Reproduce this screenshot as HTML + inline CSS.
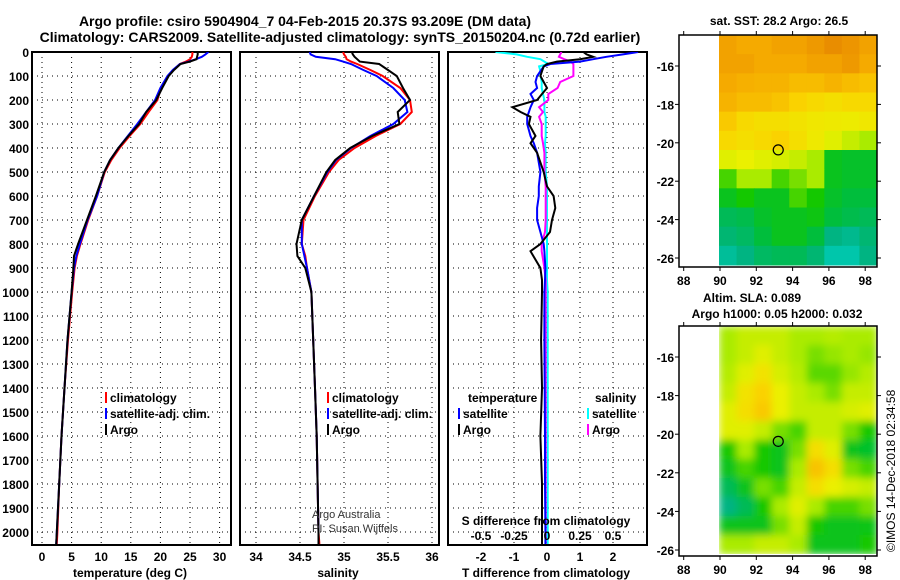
<!DOCTYPE html>
<html><head><meta charset="utf-8"><style>
html,body{margin:0;padding:0;background:#fff;}
svg{display:block;font-family:"Liberation Sans",sans-serif;font-weight:bold;}
</style></head><body>
<svg id="c" width="900" height="580" viewBox="0 0 900 580">
<text x="305" y="26" text-anchor="middle" font-size="14">Argo profile: csiro 5904904_7 04-Feb-2015 20.37S 93.209E (DM data)</text>
<text x="340" y="42" text-anchor="middle" font-size="14">Climatology: CARS2009. Satellite-adjusted climatology: synTS_20150204.nc (0.72d earlier)</text>
<g id="g"></g>
</svg>
<script>
const depthT=[0,10,20,30,40,50,75,100,150,200,250,300,350,400,450,500,600,700,800,850,900,1000,1200,1400,1600,1800,2000,2050];
const tempArgo=[26.3,26.3,26.2,26.1,25.0,23.4,22.3,21.4,20.3,19.3,17.6,16.4,14.6,12.9,11.5,10.5,9.1,7.6,6.1,5.4,5.3,5.0,4.3,3.8,3.3,2.9,2.5,2.4];
const tempClim=[25.4,25.4,25.3,25.0,24.3,23.3,22.2,21.3,20.1,19.5,18.0,16.6,14.8,13.1,11.7,10.6,9.3,7.8,6.5,5.9,5.5,5.1,4.4,3.8,3.3,2.9,2.6,2.5];
const tempSat=[28.1,27.6,27.0,26.0,24.8,23.3,22.1,21.2,20.0,19.1,17.6,16.1,14.5,12.9,11.5,10.5,9.3,7.7,6.4,5.8,5.4,5.0,4.3,3.8,3.3,2.9,2.5,2.4];
const salArgo=[35.09,35.10,35.12,35.15,35.18,35.40,35.50,35.60,35.67,35.75,35.61,35.63,35.32,35.07,34.90,34.80,34.66,34.52,34.46,34.47,34.56,34.63,34.65,34.67,34.69,34.70,34.71,34.71];
const salClim=[34.99,35.00,35.02,35.03,35.08,35.15,35.30,35.44,35.64,35.75,35.77,35.64,35.36,35.12,34.94,34.83,34.67,34.54,34.52,34.56,34.58,34.63,34.65,34.67,34.69,34.70,34.71,34.72];
const salSat=[34.61,34.62,34.68,34.90,34.99,35.08,35.22,35.37,35.56,35.69,35.72,35.56,35.30,35.08,34.91,34.81,34.66,34.52,34.52,34.55,34.58,34.63,34.65,34.67,34.69,34.70,34.71,34.71];
const depthD=[0,10,20,30,40,50,60,80,100,125,150,175,200,230,250,270,300,350,380,420,500,560,600,650,700,750,800,830,900,950,1000,1200,1400,1600,1800,2000,2050];
const dTArgo=[1.1,1.2,1.4,1.0,0.3,0.0,-0.1,-0.15,-0.2,-0.1,0.0,-0.15,-0.3,-1.05,-0.8,-0.5,-0.55,-0.35,-0.5,-0.3,-0.1,0.0,0.2,0.25,0.15,0.09,-0.2,-0.5,-0.2,-0.15,-0.15,-0.18,-0.15,-0.2,-0.15,-0.15,-0.15];
const dTSat=[2.76,2.3,1.8,1.4,1.0,0.1,-0.1,-0.2,-0.3,-0.35,-0.3,-0.5,-0.4,-0.5,-0.55,-0.6,-0.6,-0.5,-0.4,-0.3,-0.2,-0.25,-0.25,-0.3,-0.3,-0.2,-0.1,-0.08,-0.05,-0.06,-0.08,-0.08,-0.07,-0.06,-0.06,-0.05,-0.05];
const dSSat=[-0.39,-0.23,-0.15,-0.05,-0.02,0.01,-0.06,-0.05,-0.05,-0.04,-0.04,-0.03,-0.02,-0.02,-0.02,-0.01,-0.01,-0.01,-0.015,-0.01,-0.01,0,0,0,0,0,0,0,0,0,0.005,0.005,0.005,0.005,0.005,0.005,0.005];
const dSArgo=[0.11,0.1,0.09,0.13,0.18,0.2,0.2,0.2,0.2,0.1,0.08,0.01,0.01,-0.06,-0.03,-0.06,-0.04,-0.04,-0.03,-0.02,-0.02,-0.01,-0.01,-0.01,-0.01,-0.015,-0.04,-0.04,-0.02,-0.01,-0.01,-0.01,-0.01,-0.01,-0.01,-0.01,-0.01];
const depthTicks=[0,100,200,300,400,500,600,700,800,900,1000,1100,1200,1300,1400,1500,1600,1700,1800,1900,2000];
const tempTicks=[0,5,10,15,20,25,30];
const salTicks=[34,34.5,35,35.5,36];
const salTickLabels=["34","34.5","35","35.5","36"];
const tdTicks=[-2,-1,0,1,2];
const sdTicks=[-0.5,-0.25,0,0.25,0.5];
const sdTickLabels=["-0.5","-0.25","0","0.25","0.5"];
const lonTicks=[88,90,92,94,96,98];
const latTicks=[-16,-18,-20,-22,-24,-26];
const sstGrid=[
[0.9,0.88,0.88,0.9,0.9,0.92,0.95,0.93,0.9],
[0.9,0.9,0.88,0.88,0.88,0.9,0.9,0.92,0.88],
[0.88,0.86,0.85,0.85,0.82,0.82,0.85,0.82,0.8],
[0.85,0.82,0.82,0.8,0.75,0.72,0.7,0.72,0.72],
[0.78,0.72,0.7,0.7,0.68,0.66,0.65,0.64,0.66],
[0.72,0.7,0.72,0.75,0.7,0.65,0.6,0.55,0.5],
[0.6,0.62,0.6,0.58,0.55,0.5,0.3,0.28,0.28],
[0.4,0.5,0.5,0.4,0.45,0.5,0.3,0.28,0.28],
[0.3,0.35,0.3,0.3,0.4,0.35,0.28,0.25,0.25],
[0.2,0.22,0.28,0.3,0.3,0.32,0.25,0.22,0.2],
[0.15,0.18,0.25,0.3,0.3,0.25,0.12,0.1,0.15],
[0.08,0.12,0.18,0.2,0.2,0.15,0.05,0.05,0.12]];
const slaGrid=[
[0.5,0.55,0.55,0.55,0.5,0.5,0.52,0.5,0.5],
[0.5,0.55,0.6,0.55,0.5,0.45,0.48,0.5,0.48],
[0.52,0.6,0.68,0.58,0.52,0.42,0.42,0.48,0.52],
[0.55,0.68,0.75,0.62,0.55,0.5,0.45,0.55,0.55],
[0.6,0.7,0.78,0.62,0.55,0.55,0.55,0.58,0.6],
[0.6,0.6,0.55,0.45,0.4,0.55,0.55,0.45,0.35],
[0.35,0.5,0.35,0.3,0.45,0.7,0.6,0.3,0.28],
[0.3,0.4,0.35,0.3,0.5,0.8,0.7,0.45,0.4],
[0.2,0.3,0.45,0.4,0.55,0.7,0.62,0.58,0.55],
[0.12,0.2,0.35,0.5,0.6,0.5,0.4,0.4,0.45],
[0.3,0.3,0.3,0.45,0.55,0.35,0.3,0.3,0.32],
[0.5,0.5,0.55,0.55,0.5,0.3,0.3,0.3,0.35]];

const NS="http://www.w3.org/2000/svg";
const G=document.getElementById('g');
function mk(tag,attrs,parent){const e=document.createElementNS(NS,tag);for(const k in attrs)e.setAttribute(k,attrs[k]);(parent||G).appendChild(e);return e;}
function txt(x,y,s,size,anchor,parent){const t=mk('text',{x:x,y:y,'font-size':size,'text-anchor':anchor||'start'},parent);t.textContent=s;return t;}
const yD=d=>52+d*0.24;
const PT=52,PB=545;
function panel(x0,x1,xs,ticks,labels,name){
  const g=mk('g',{});
  
  
  ticks.forEach(v=>{mk('line',{x1:xs(v),x2:xs(v),y1:PT,y2:PB,stroke:'#000','stroke-width':1,'stroke-dasharray':'1,4'},g);});
  depthTicks.forEach(d=>{mk('line',{x1:x0,x2:x1,y1:yD(d),y2:yD(d),stroke:'#000','stroke-width':1,'stroke-dasharray':'1,4'},g);});
  mk('rect',{x:x0,y:PT,width:x1-x0,height:PB-PT,fill:'none',stroke:'#000','stroke-width':2},g);
  if(labels){ticks.forEach((v,i)=>{const t=txt(xs(v),561,labels[i],12,'middle',g);});}
  return g;
}
function line(xs,ds,vals,color,name,parent){
  let p='';ds.forEach((d,i)=>{p+=(i?'L':'M')+xs(vals[i]).toFixed(1)+','+yD(d).toFixed(1);});
  const e=mk('path',{d:p,fill:'none',stroke:color,'stroke-width':2,'clip-path':'url(#clipP)'},parent);
  
  
}
const defs=mk('defs',{});
const cp=mk('clipPath',{id:'clipP'},defs);mk('rect',{x:0,y:PT,width:900,height:PB-PT},cp);
const cm=mk('clipPath',{id:'clipSLA'},defs);mk('rect',{x:719,y:326,width:158,height:228},cm);
const fl=mk('filter',{id:'blurSLA',x:'-10%',y:'-10%',width:'120%',height:'120%'},defs);
mk('feGaussianBlur',{stdDeviation:4,edgeMode:'duplicate'},fl);

depthTicks.forEach(d=>{const t=txt(29,yD(d)+5,String(d),12,'end');});

const xT=v=>42+v*5.92;
const p1=panel(32,231,xT,tempTicks,tempTicks.map(String),'temperature-panel');
line(xT,depthT,tempClim,'#f00','temp-climatology-line',p1);
line(xT,depthT,tempSat,'#00f','temp-satellite-line',p1);
line(xT,depthT,tempArgo,'#000','temp-argo-line',p1);
let t=txt(130,577,'temperature (deg C)',12,'middle');

function legend(x,y,items,parent){items.forEach((it,i)=>{const gy=y+i*16;
 const g=mk('g',{},parent);
 mk('rect',{x:x,y:gy-10,width:2,height:11,fill:it[1]},g);txt(x+5,gy,it[0],12,'start',g);});}
legend(105,402,[['climatology','#f00'],['satellite-adj. clim.','#00f'],['Argo','#000']]);

const xS=v=>256+(v-34)*88;
const p2=panel(240,439,xS,salTicks,salTickLabels,'salinity-panel');
line(xS,depthT,salClim,'#f00','sal-climatology-line',p2);
line(xS,depthT,salSat,'#00f','sal-satellite-line',p2);
line(xS,depthT,salArgo,'#000','sal-argo-line',p2);
t=txt(338,577,'salinity',12,'middle');
legend(327,402,[['climatology','#f00'],['satellite-adj. clim.','#00f'],['Argo','#000']]);
let a=txt(312,518,'Argo Australia',11,'start');a.setAttribute('font-weight','normal');a.setAttribute('fill','#333');
a=txt(312,532,'PI: Susan Wijffels',11,'start');a.setAttribute('font-weight','normal');a.setAttribute('fill','#333');

const xTD=v=>547+v*33;
const xSD=v=>547+v*132;
const p3=panel(448,647,xTD,tdTicks,tdTicks.map(String),'difference-panel');
line(xSD,depthD,dSSat,'#0ff','sdiff-satellite-line',p3);
line(xSD,depthD,dSArgo,'#f0f','sdiff-argo-line',p3);
line(xTD,depthD,dTSat,'#00f','tdiff-satellite-line',p3);
line(xTD,depthD,dTArgo,'#000','tdiff-argo-line',p3);
t=txt(546,577,'T difference from climatology',12,'middle');
t=txt(546,525,'S difference from climatology',12,'middle');
sdTicks.forEach((v,i)=>{const s=txt(xSD(v),540,sdTickLabels[i],12,'middle');});
t=txt(468,402,'temperature',12,'start');
t=txt(595,402,'salinity',12,'start');
legend(458,418,[['satellite','#00f'],['Argo','#000']]);
legend(587,418,[['satellite','#0ff'],['Argo','#f0f']]);

const stops=[[0,[0,210,200]],[0.12,[0,180,130]],[0.25,[0,190,60]],[0.35,[20,200,0]],[0.5,[170,235,0]],[0.62,[235,240,0]],[0.75,[250,210,0]],[0.88,[245,170,0]],[1,[225,120,0]]];
function cmap(v){v=Math.max(0,Math.min(1,v));for(let i=1;i<stops.length;i++){if(v<=stops[i][0]){const a=stops[i-1],b=stops[i],f=(v-a[0])/(b[0]-a[0]);return 'rgb('+a[1].map((c,k)=>Math.round(c+(b[1][k]-c)*f)).join(',')+')';}}return 'rgb(225,120,0)';}
function map(fx,fy,fw,fh,y16,pxLat,grid,name,dataBottom,smooth){
  const g=mk('g',{});
  const xL=v=>720+(v-90)*18.15;const yL=v=>y16+(-16-v)*pxLat;
  const cw=(fx+fw-719)/grid[0].length,ch=(dataBottom-fy)/grid.length;
  let cellParent=g;
  if(smooth){const cl=mk('g',{'clip-path':'url(#clipSLA)'},g);cellParent=mk('g',{filter:'url(#blurSLA)'},cl);}
  grid.forEach((row,r)=>row.forEach((v,c)=>{const e=mk('rect',{x:(719+c*cw).toFixed(2),y:(fy+r*ch).toFixed(2),width:(cw+0.5).toFixed(2),height:(ch+0.5).toFixed(2),fill:cmap(v)},cellParent);
    }));
  mk('rect',{x:fx,y:fy,width:fw,height:fh,fill:'none',stroke:'#000','stroke-width':1.5},g);
  latTicks.forEach(v=>{mk('line',{x1:fx,x2:fx-4,y1:yL(v),y2:yL(v),stroke:'#000'},g);mk('line',{x1:fx+fw,x2:fx+fw+4,y1:yL(v),y2:yL(v),stroke:'#000'},g);
    const s=txt(674,yL(v)+5,String(v),12,'end',g);});
  lonTicks.forEach(v=>{mk('line',{x1:xL(v),x2:xL(v),y1:fy+fh,y2:fy+fh+4,stroke:'#000'},g);mk('line',{x1:xL(v),x2:xL(v),y1:fy,y2:fy-4,stroke:'#000'},g);
    const s=txt(xL(v),fy+fh+18,String(v),12,'middle',g);});
  const c=mk('circle',{cx:xL(93.209),cy:yL(-20.37),r:5,fill:'none',stroke:'#000','stroke-width':1.2},g);
  
}
map(679,35,198,232,66,19.2,sstGrid,'sst-map',265,false);
map(679,326,198,230,357,19.3,slaGrid,'sla-map',554,true);
t=txt(779,25,'sat. SST: 28.2 Argo: 26.5',12,'middle');
t=txt(752,302,'Altim. SLA: 0.089',12,'middle');
t=txt(777,318,'Argo h1000: 0.05 h2000: 0.032',12,'middle');
t=txt(0,0,'©IMOS 14-Dec-2018 02:34:58',12,'start');t.setAttribute('transform','translate(895,552) rotate(-90)');t.setAttribute('font-weight','normal');

</script>
</body></html>
